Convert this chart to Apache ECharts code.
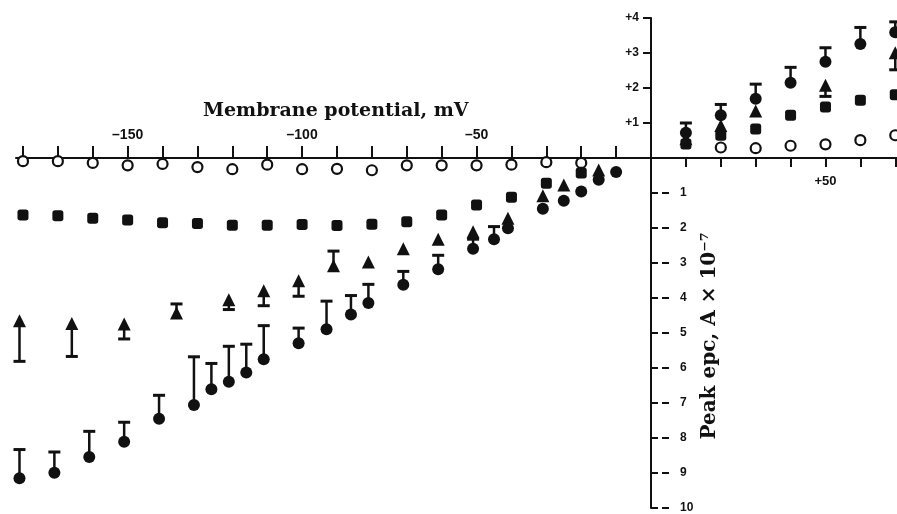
<!DOCTYPE html>
<html>
<head>
<meta charset="utf-8">
<script src="https://cdn.jsdelivr.net/npm/echarts@6/dist/echarts.min.js"></script>
<style>
	html, body { margin: 0; background: #fff; }
	#main { width: 897px; height: 514px; }
</style>
</head>
<body>
<div id="main"></div>
<script>
// tick values
const negXTicks = [-180, -170, -160, -150, -140, -130, -120, -110, -100, -90, -80, -70, -60, -50, -40, -30, -20, -10]
const negXLabels = [-150, -100, -50]
const posXTicks = [10, 20, 30, 40, 50, 60, 70]
const posXLabels = [50]
const posYTicks = [1, 2, 3, 4]
const negYTicks = [-1, -2, -3, -4, -5, -6, -7, -8, -9, -10]

// [mV, peak epc]
const openCircles = [
	[-180, -0.09], [-170, -0.09], [-160, -0.14], [-150, -0.21], [-140, -0.17], [-130, -0.26],
	[-120, -0.32], [-110, -0.19], [-100, -0.32], [-90, -0.31], [-80, -0.35], [-70, -0.21],
	[-60, -0.21], [-50, -0.21], [-40, -0.19], [-30, -0.12], [-20, -0.14],
	[20, 0.3], [30, 0.28], [40, 0.35], [50, 0.39], [60, 0.51], [70, 0.65]
]
const squares = [
	[-180, -1.63], [-170, -1.65], [-160, -1.72], [-150, -1.77], [-140, -1.85], [-130, -1.87],
	[-120, -1.92], [-110, -1.92], [-100, -1.9], [-90, -1.93], [-80, -1.89], [-70, -1.82],
	[-60, -1.63], [-50, -1.34], [-40, -1.12], [-30, -0.72], [-20, -0.43],
	[10, 0.4], [20, 0.65], [30, 0.83], [40, 1.22], [50, 1.46], [60, 1.65], [70, 1.81]
]
// [mV, peak epc, error bar end]
const triangles = [
	[-181, -4.65, -5.81], [-166, -4.73, -5.67], [-151, -4.74, -5.17], [-136, -4.43, -4.17],
	[-121, -4.05, -4.33], [-111, -3.79, -4.22], [-101, -3.51, -3.95], [-91, -3.08, -2.66],
	[-81, -2.97, null], [-71, -2.59, null], [-61, -2.32, null], [-51, -2.11, null],
	[-41, -1.72, null], [-31, -1.08, null], [-25, -0.77, null], [-15, -0.34, null],
	[10, 0.55, null], [20, 0.93, null], [30, 1.34, null], [50, 2.08, 1.76], [70, 3.01, 2.52]
]
const filledCircles = [
	[-181, -9.15, -8.33], [-171, -8.99, -8.4], [-161, -8.54, -7.81], [-151, -8.11, -7.55],
	[-141, -7.45, -6.78], [-131, -7.06, -5.68], [-126, -6.61, -5.87], [-121, -6.39, -5.38],
	[-116, -6.13, -5.32], [-111, -5.75, -4.79], [-101, -5.29, -4.86], [-93, -4.89, -4.09],
	[-86, -4.47, -3.93], [-81, -4.14, -3.61], [-71, -3.62, -3.24], [-61, -3.18, -2.78],
	[-51, -2.59, -2.32], [-45, -2.32, -1.96], [-41, -2.01, null], [-31, -1.45, null],
	[-25, -1.22, null], [-20, -0.96, null], [-15, -0.62, null], [-10, -0.4, null],
	[10, 0.72, 1.0], [20, 1.22, 1.53], [30, 1.69, 2.11], [40, 2.15, 2.59],
	[50, 2.75, 3.15], [60, 3.26, 3.73], [70, 3.59, 3.89]
]

const ink = '#111'
const xMin = -182
const xMax = 70.5
const yMin = -10
const yMax = 4
const tickFont = { fontFamily: 'Liberation Sans', fontWeight: 'bold', color: ink }
const tickLine = { color: ink, width: 2 }

// plot box, the zero lines are found from it
const box = { left: 16, top: 18, width: 881, height: 490 }
const zeroX = box.left + (0 - xMin) / (xMax - xMin) * box.width
const zeroY = box.top + (yMax - 0) / (yMax - yMin) * box.height

const chart = echarts.init(document.getElementById('main'))

// one-sided bar with a cap at its end
const errorBars = (rows) => ({
	type: 'custom',
	clip: false,
	z: 1,
	data: rows.filter((r) => r[2] != null),
	encode: { x: 0, y: [1, 2] },
	renderItem: (params, api) => {
		const p0 = api.coord([api.value(0), api.value(1)])
		const p1 = api.coord([api.value(0), api.value(2)])
		return {
			type: 'group',
			children: [
				{ type: 'line', shape: { x1: p0[0], y1: p0[1], x2: p1[0], y2: p1[1] }, style: { stroke: ink, lineWidth: 2.5 } },
				{ type: 'line', shape: { x1: p1[0] - 6, y1: p1[1], x2: p1[0] + 6, y2: p1[1] }, style: { stroke: ink, lineWidth: 3 } }
			]
		}
	}
})

const marks = (rows, symbol, size, style) => ({
	type: 'scatter',
	clip: false,
	z: 3,
	symbol,
	symbolSize: size,
	itemStyle: { opacity: 1, ...style },
	data: rows.map((r) => [r[0], r[1]])
})

const hiddenX = (gridIndex) => ({ type: 'value', gridIndex, min: xMin, max: xMax, show: false })
const hiddenY = (gridIndex) => ({ type: 'value', gridIndex, min: yMin, max: yMax, show: false })

const option = {
	animation: false,
	backgroundColor: '#fff',
	grid: [
		// data
		{ left: box.left, top: box.top, width: box.width, height: box.height, outerBoundsMode: 'none' },
		// horizontal axis, its top edge on y = 0
		{ left: box.left, top: zeroY, width: box.width, height: box.top + box.height - zeroY, outerBoundsMode: 'none' },
		{ left: box.left, top: zeroY, width: box.width, height: box.top + box.height - zeroY, outerBoundsMode: 'none' },
		// vertical axis, its left edge on x = 0
		{ left: zeroX, top: box.top, width: box.left + box.width - zeroX, height: box.height, outerBoundsMode: 'none' },
		{ left: zeroX, top: box.top, width: box.left + box.width - zeroX, height: box.height, outerBoundsMode: 'none' }
	],
	xAxis: [
		hiddenX(0),
		{
			type: 'value', gridIndex: 1, min: xMin, max: xMax, position: 'top',
			axisLine: { onZero: false, lineStyle: tickLine },
			axisTick: { customValues: negXTicks, length: 12, lineStyle: tickLine },
			axisLabel: { customValues: negXLabels, margin: 16, fontSize: 14, ...tickFont, formatter: (v) => '\u2013' + Math.abs(v) },
			splitLine: { show: false }
		},
		{
			type: 'value', gridIndex: 2, min: xMin, max: xMax, position: 'top',
			axisLine: { show: false, onZero: false },
			axisTick: { show: true, inside: true, customValues: posXTicks, length: 9, lineStyle: tickLine },
			axisLabel: { inside: true, customValues: posXLabels, margin: 17, fontSize: 13, ...tickFont, formatter: (v) => '+' + v },
			splitLine: { show: false }
		},
		hiddenX(3),
		hiddenX(4)
	],
	yAxis: [
		hiddenY(0),
		hiddenY(1),
		hiddenY(2),
		{
			type: 'value', gridIndex: 3, min: yMin, max: yMax, position: 'left',
			axisLine: { onZero: false, lineStyle: tickLine },
			axisTick: { customValues: posYTicks, length: 8, lineStyle: tickLine },
			axisLabel: { customValues: posYTicks, margin: 12, fontSize: 12, ...tickFont, formatter: (v) => '+' + v },
			splitLine: { show: false }
		},
		{
			type: 'value', gridIndex: 4, min: yMin, max: yMax, position: 'left',
			axisLine: { show: false, onZero: false },
			axisTick: { show: true, inside: true, customValues: negYTicks, length: 21, lineStyle: { color: ink, width: 2, type: [7, 4] } },
			axisLabel: { inside: true, customValues: negYTicks, margin: 29, fontSize: 12, ...tickFont, formatter: (v) => String(Math.abs(v)) },
			splitLine: { show: false }
		}
	],
	graphic: [
		{
			type: 'text', x: 203, y: 111,
			style: { text: 'Membrane potential, mV', font: 'bold 19px "DejaVu Serif"', fill: ink, textVerticalAlign: 'middle' }
		},
		{
			type: 'text', x: 710, y: 336, rotation: Math.PI / 2,
			style: { text: 'Peak epc, A \u00d7 10\u207b\u2077', font: 'bold 20px "DejaVu Serif"', fill: ink, textAlign: 'center', textVerticalAlign: 'middle' }
		}
	],
	series: [
		errorBars(triangles),
		errorBars(filledCircles),
		marks(openCircles, 'circle', 10, { color: '#fff', borderColor: ink, borderWidth: 2.2 }),
		marks(squares, 'roundRect', 11, { color: ink }),
		marks(triangles, 'triangle', 13, { color: ink }),
		marks(filledCircles, 'circle', 12, { color: ink })
	]
}

chart.setOption(option)
window.addEventListener('resize', () => {
	chart.resize()
})
</script>
</body>
</html>
